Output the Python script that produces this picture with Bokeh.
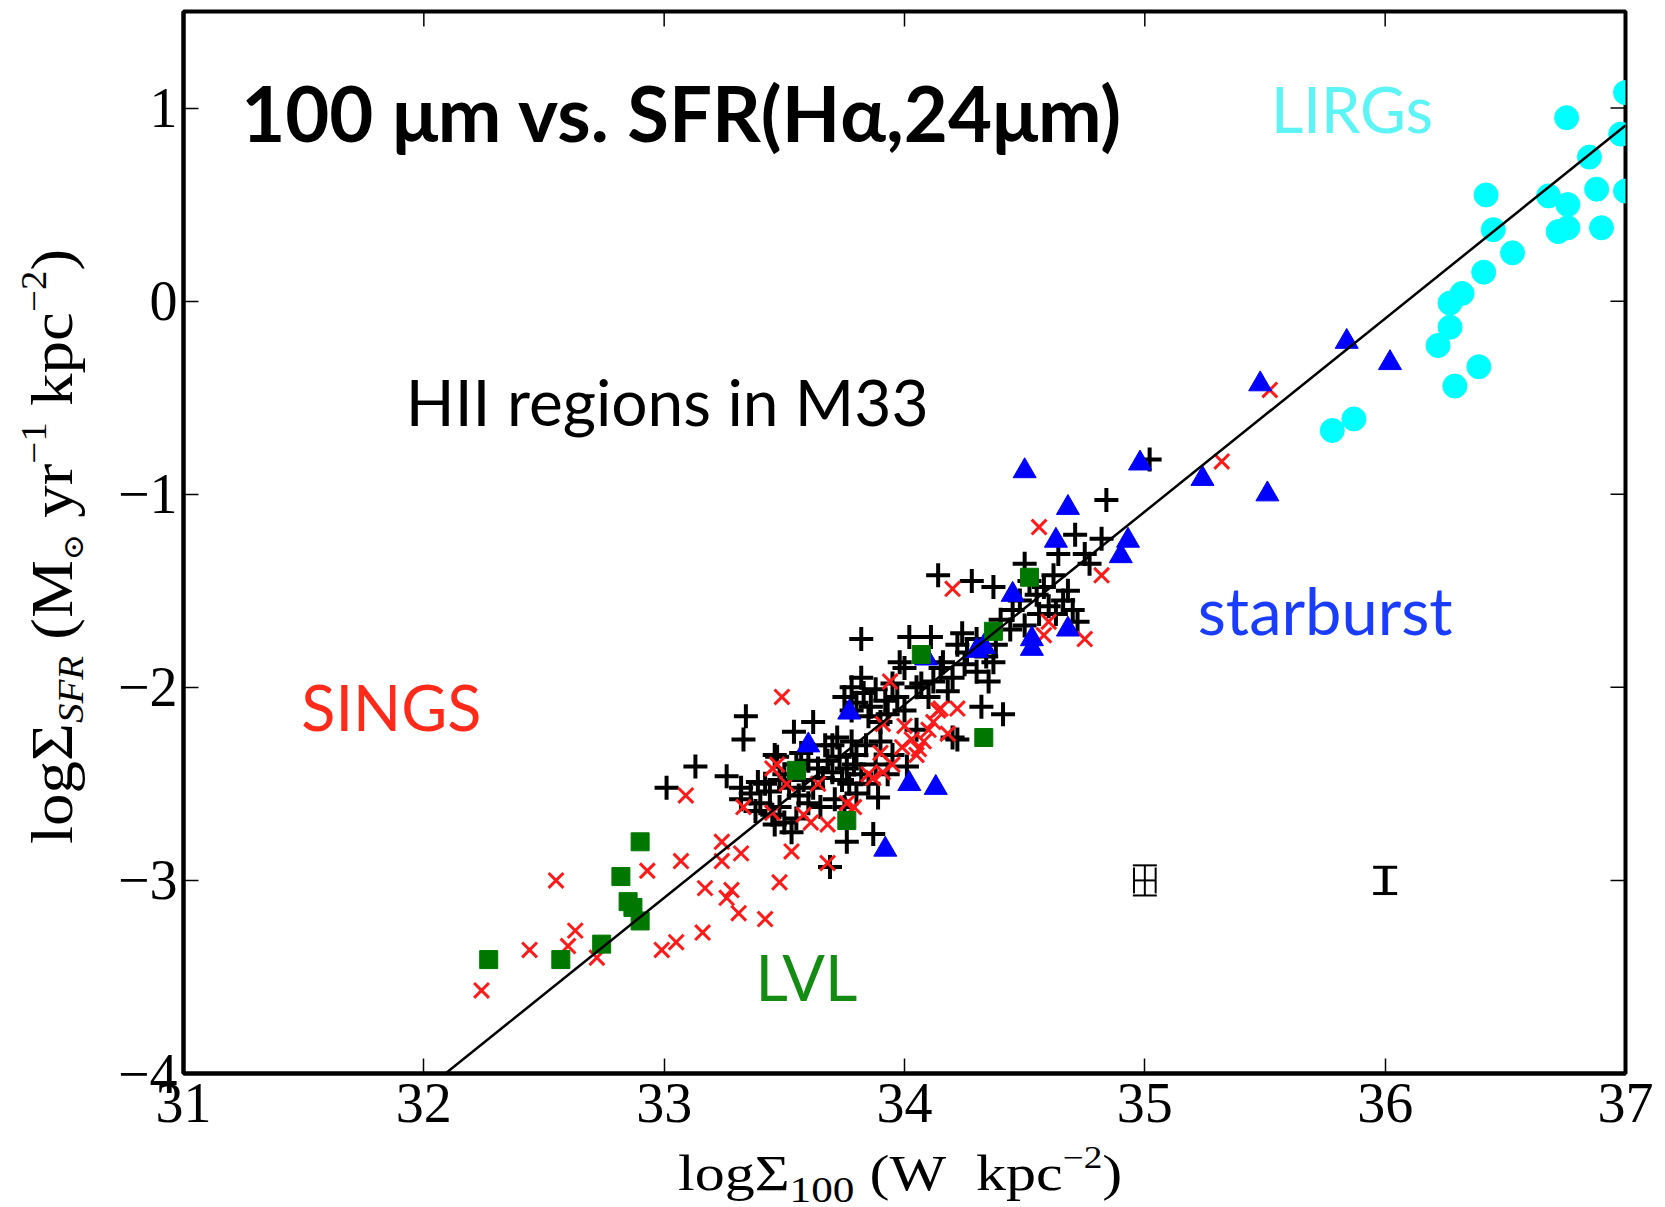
import math
from bokeh.plotting import figure
from bokeh.models import Label, ColumnDataSource, Whisker, TeeHead, FixedTicker, Div
from bokeh.layouts import row, column
from bokeh.embed import file_html
from bokeh.resources import INLINE

# ---------------- data ----------------
# HII regions in M33 (black plus)
m33_x = [33.01, 33.13, 33.26, 33.34, 33.33, 33.32, 33.39, 33.46, 33.54, 33.62,
         33.53, 33.69, 33.76, 33.87, 33.89, 33.32, 33.36, 33.40, 33.44, 33.38,
         33.45, 33.42, 33.47, 33.50, 33.55, 33.52, 33.56, 33.48, 33.57, 33.70,
         33.73, 33.76, 33.78, 33.80, 33.82, 33.74, 33.70, 33.77, 33.84, 33.79,
         33.72, 33.68, 33.66, 33.62, 33.64, 33.60, 33.65, 33.71, 33.75, 33.80,
         33.85, 33.88, 33.75, 33.78, 33.80, 33.83, 33.86, 33.88, 33.92, 33.82,
         33.78, 33.85, 33.90, 33.98, 33.82, 34.01, 34.20, 34.32, 34.41, 34.22,
         34.15, 34.20, 34.25, 34.30, 34.35, 34.37, 34.02, 34.11, 34.07, 34.12,
         34.00, 34.16, 34.22, 34.26, 34.30, 34.34, 34.38, 34.24, 33.95, 33.97,
         34.00, 33.93, 34.14, 34.28, 34.37, 34.50, 34.52, 34.55, 34.58, 34.60,
         34.63, 34.66, 34.70, 34.56, 34.48, 34.45, 34.68, 34.62, 34.72, 34.40,
         34.44, 34.50, 34.64, 34.71, 34.82, 34.75, 34.77, 34.84, 35.02, 33.48,
         33.55, 33.50, 33.46, 33.58, 33.60, 33.67, 33.90, 33.95, 33.93, 34.05,
         34.10, 34.18, 34.05]
m33_y = [-2.52, -2.41, -2.46, -2.15, -2.27, -2.58, -2.49, -2.35, -2.23, -2.18,
         -2.75, -2.93, -2.80, -2.76, -2.57, -2.52, -2.55, -2.60, -2.54, -2.64,
         -2.66, -2.50, -2.36, -2.45, -2.40, -2.52, -2.56, -2.48, -2.34, -2.30,
         -2.36, -2.42, -2.28, -2.35, -2.45, -2.48, -2.44, -2.50, -2.30, -2.40,
         -2.26, -2.38, -2.47, -2.52, -2.42, -2.60, -2.62, -2.58, -2.62, -2.55,
         -2.50, -2.40, -2.05, -2.00, -2.08, -2.03, -2.10, -2.01, -2.07, -1.95,
         -2.12, -2.15, -2.18, -1.87, -1.75, -2.41, -2.26, -2.10, -2.14, -2.27,
         -1.90, -1.95, -1.88, -1.92, -1.97, -1.87, -1.74, -1.74, -1.98, -1.97,
         -1.90, -1.87, -1.78, -1.82, -1.75, -1.84, -1.78, -1.72, -1.98, -2.05,
         -2.12, -2.14, -1.42, -1.45, -1.48, -1.36, -1.45, -1.52, -1.48, -1.58,
         -1.62, -1.55, -1.60, -1.62, -1.55, -1.60, -1.50, -1.42, -1.66, -1.65,
         -1.70, -1.68, -1.31, -1.21, -1.23, -1.31, -1.36, -1.03, -0.82, -2.62,
         -2.68, -2.70, -2.71, -2.48, -2.38, -2.30, -2.28, -2.35, -2.45, -2.22,
         -2.05, -2.02, -2.00]

# SINGS (red x)
sings_x = [32.24, 32.44, 32.55, 32.63, 32.60, 32.72, 32.93, 32.99, 33.05, 33.16,
           33.07, 33.24, 33.24, 33.32, 33.17, 33.26, 33.28, 33.31, 33.42, 33.48,
           33.53, 33.68, 33.09, 33.49, 33.33, 33.94, 33.91, 34.15, 34.22, 34.18,
           34.10, 34.08, 33.99, 34.05, 33.90, 33.91, 33.87, 33.85, 33.47, 33.45,
           33.64, 33.51, 33.76, 33.79, 33.58, 33.61, 33.68, 33.45, 34.56, 34.20,
           34.82, 34.60, 34.58, 34.75, 34.14, 35.32, 35.52, 34.12, 34.03, 34.06,
           33.95, 34.00]
sings_y = [-3.57, -3.36, -3.00, -3.26, -3.34, -3.40, -2.95, -3.36, -3.32, -3.27,
           -2.90, -2.80, -2.90, -2.86, -3.04, -3.09, -3.05, -3.17, -3.20, -3.01,
           -2.85, -2.91, -2.56, -2.05, -2.62, -1.97, -2.19, -2.11, -2.11, -2.24,
           -2.22, -2.28, -2.31, -2.35, -2.34, -2.44, -2.47, -2.45, -2.40, -2.42,
           -2.50, -2.50, -2.60, -2.62, -2.66, -2.70, -2.71, -2.65, -1.17, -1.49,
           -1.42, -1.66, -1.73, -1.75, -2.12, -0.83, -0.46, -2.18, -2.27, -2.32,
           -2.40, -2.20]

# starburst (blue triangles)
sb_x = [35.84, 36.02, 35.48, 35.51, 35.24, 34.50, 34.98, 34.68, 34.63, 34.93,
        34.90, 34.45, 34.68, 34.53, 34.53, 34.33, 34.30, 34.09, 33.77, 33.60,
        34.02, 34.13, 33.92]
sb_y = [-0.21, -0.32, -0.43, -1.00, -0.92, -0.88, -0.84, -1.07, -1.24, -1.24,
        -1.32, -1.52, -1.70, -1.75, -1.80, -1.79, -1.81, -1.85, -2.13, -2.30,
        -2.50, -2.52, -2.84]

# LVL (green squares)
lvl_x = [32.27, 32.57, 32.74, 32.90, 32.85, 32.87, 32.82, 32.90, 33.76, 33.55,
         34.33, 34.07, 34.37, 34.52]
lvl_y = [-3.41, -3.41, -3.33, -3.21, -3.11, -3.14, -2.98, -2.80, -2.69, -2.43,
         -2.26, -1.83, -1.71, -1.43]

# LIRGs (cyan circles)
lirg_x = [36.755, 36.85, 36.98, 37.0, 37.0, 36.42, 36.68, 36.76, 36.88, 36.45,
          36.72, 36.76, 36.90, 36.53, 36.41, 36.32, 36.27, 36.27, 36.22, 36.39,
          36.29, 35.87, 35.78]
lirg_y = [0.95, 0.746, 0.865, 1.08, 0.57, 0.55, 0.545, 0.50, 0.58, 0.37,
          0.36, 0.38, 0.38, 0.25, 0.15, 0.04, -0.01, -0.135, -0.23, -0.34,
          -0.44, -0.61, -0.67]

# fitted relation
fit_x = [32.09, 37.0]
fit_y = [-4.0, 0.91]

# typical error bars
err_x = [35.0, 36.0]
err_y = [-3.0, -3.0]
err_dx = [0.045, 0.0]
err_dy = [0.078, 0.068]

x_range = (31, 37)
y_range = (-4, 1.5)
x_ticks = [31, 32, 33, 34, 35, 36, 37]
y_ticks = [-4, -3, -2, -1, 0, 1]
y_tick_labels = ["\u22124", "\u22123", "\u22122", "\u22121", "0", "1"]

# ---------------- figure ----------------
YLAB_W = 88
P_W = 1570
P_H = 1149
XLAB_H = 56

p = figure(width=P_W, height=P_H, x_range=x_range, y_range=y_range,
           output_backend="svg", toolbar_location=None,
           min_border_left=95, min_border_right=33, min_border_top=11,
           min_border_bottom=76, margin=0)
p.grid.visible = False
p.outline_line_color = "black"
p.outline_line_width = 4
p.background_fill_color = "white"
p.border_fill_color = "white"

TICK_FONT = "Liberation Serif"
for ax in (p.xaxis[0], p.yaxis[0]):
    ax.major_tick_in = 15
    ax.major_tick_out = 0
    ax.minor_tick_line_color = None
    ax.major_tick_line_width = 1.5
    ax.axis_line_width = 4
    ax.major_label_text_font = TICK_FONT
    ax.major_label_text_font_size = "56px"
    ax.major_label_text_color = "black"
p.xaxis[0].ticker = FixedTicker(ticks=x_ticks)
p.yaxis[0].ticker = FixedTicker(ticks=y_ticks)
p.xaxis[0].major_label_standoff = 10
p.yaxis[0].major_label_standoff = 6
p.yaxis[0].major_label_overrides = {t: s for t, s in zip(y_ticks, y_tick_labels)}

# inward ticks on the top and right frame edges
p.ray(x=x_ticks, y=[y_range[1]] * len(x_ticks), length=15, length_units="screen",
      angle=-math.pi / 2, line_color="black", line_width=1.5)
p.ray(x=[x_range[1]] * len(y_ticks), y=y_ticks, length=15, length_units="screen",
      angle=math.pi, line_color="black", line_width=1.5)

# ---------------- marks ----------------
p.scatter(m33_x, m33_y, marker="cross", size=24, line_color="black", line_width=4)
p.scatter(sings_x, sings_y, marker="x", size=21, line_color="#ff1a1a", line_width=3)
p.scatter(sb_x, sb_y, marker="triangle", size=23, fill_color="#0000ff", line_color="#0000ff", line_width=1)
p.scatter(lvl_x, lvl_y, marker="square", size=18, fill_color="#007800", line_color="#007800")
p.scatter(lirg_x, lirg_y, marker="circle", size=24, fill_color="#00ffff", line_color="#00ffff")
p.line(fit_x, fit_y, line_color="black", line_width=2.5)

# error bars
v1 = ColumnDataSource(dict(base=err_x[:1], lower=[err_y[0] - err_dy[0]], upper=[err_y[0] + err_dy[0]]))
v2 = ColumnDataSource(dict(base=err_x[1:], lower=[err_y[1] - err_dy[1]], upper=[err_y[1] + err_dy[1]]))
h1 = ColumnDataSource(dict(base=err_y[:1], lower=[err_x[0] - err_dx[0]], upper=[err_x[0] + err_dx[0]]))
p.add_layout(Whisker(source=v1, base="base", lower="lower", upper="upper", dimension="height",
                     line_width=2, line_color="black",
                     upper_head=TeeHead(size=24, line_width=2, line_color="black"),
                     lower_head=TeeHead(size=24, line_width=2, line_color="black")))
p.add_layout(Whisker(source=h1, base="base", lower="lower", upper="upper", dimension="width",
                     line_width=2, line_color="black",
                     upper_head=TeeHead(size=26, line_width=2, line_color="black"),
                     lower_head=TeeHead(size=26, line_width=2, line_color="black")))
p.add_layout(Whisker(source=v2, base="base", lower="lower", upper="upper", dimension="height",
                     line_width=5, line_color="black",
                     upper_head=TeeHead(size=24, line_width=3, line_color="black"),
                     lower_head=TeeHead(size=24, line_width=3, line_color="black")))

# ---------------- text annotations ----------------
ANN = "Lato"
def ann(x, y, text, color, size, style="normal"):
    p.add_layout(Label(x=x, y=y, text=text, text_color=color, text_font=ANN,
                       text_font_size=size, text_font_style=style,
                       text_align="left", text_baseline="alphabetic"))

ann(31.24, 0.975, "100 \u03bcm vs. SFR(H\u03b1,24\u03bcm)", "black", "76px", "bold")
ann(31.925, -0.52, "HII regions in M33", "black", "64px")
ann(31.49, -2.10, "SINGS", "#ff2a1a", "63px")
ann(35.22, -1.60, "starburst", "#1a3cff", "65px")
ann(33.38, -3.50, "LVL", "#148c14", "63px")
ann(35.525, 1.00, "LIRGs", "#5cf4f4", "63px")

# ---------------- axis labels as HTML (real text with sub/superscripts) ----------------
SERIF = "'Liberation Serif', 'Times New Roman', serif"
sub = "font-size:{fs}px; vertical-align:{va}px; line-height:0;"

x_html = (
    '<span style="position:absolute; left:590px; top:-1px; white-space:nowrap; '
    'font-family:' + SERIF + '; font-size:50px; line-height:1; color:black; '
    'transform-origin:0 0; transform:scaleX(1.2);">'
    'log&Sigma;<span style="' + sub.format(fs=36, va=-12) + '">100</span>'
    '&nbsp;(W&nbsp;&nbsp;kpc<span style="' + sub.format(fs=31, va=22) + '">&minus;2</span>)'
    '</span>'
)
y_html = (
    '<span style="position:absolute; left:22px; top:844px; white-space:nowrap; '
    'font-family:' + SERIF + '; font-size:50px; line-height:1; color:black; '
    'transform-origin:0 0; transform:rotate(-90deg) scale(1.3, 1.18);">'
    'log&Sigma;<span style="' + sub.format(fs=30, va=-10) + ' font-style:italic;">SFR</span>'
    '&nbsp;(M<span style="' + sub.format(fs=24, va=-10) + " font-family:'DejaVu Serif';" + '">&#x2299;</span>'
    '&nbsp;yr<span style="' + sub.format(fs=30, va=22) + '">&minus;1</span>'
    '&nbsp;kpc<span style="' + sub.format(fs=30, va=22) + '">&minus;2</span>)'
    '</span>'
)

xlab = Div(text=x_html, width=P_W, height=XLAB_H, margin=0,
           styles={"overflow": "visible", "position": "relative"})
ylab = Div(text=y_html, width=YLAB_W, height=P_H + XLAB_H, margin=0,
           styles={"overflow": "visible", "position": "relative"})

layout = row(ylab, column(p, xlab, spacing=0), spacing=0)

open("out.html", "w").write(file_html(layout, INLINE))
